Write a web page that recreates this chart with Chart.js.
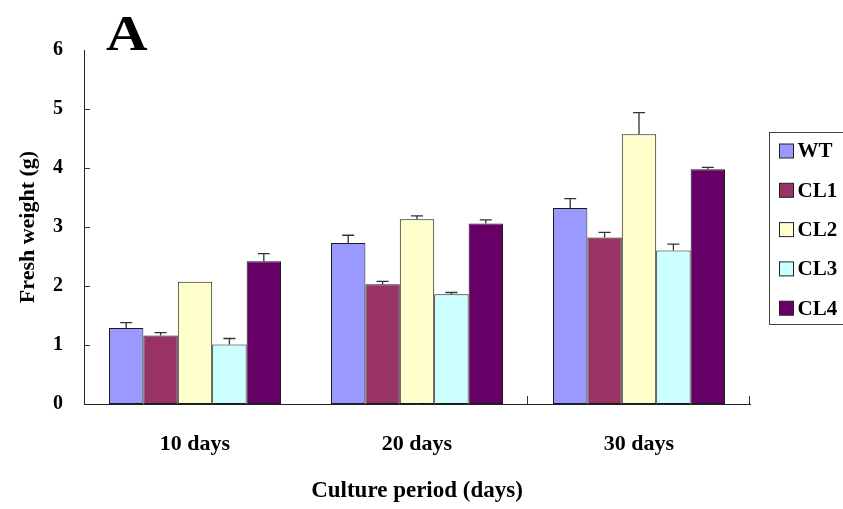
<!DOCTYPE html>
<html><head><meta charset="utf-8">
<script src="https://cdn.jsdelivr.net/npm/chart.js@4.4.0/dist/chart.umd.min.js"></script>
<style>html,body{margin:0;padding:0;background:#fff;overflow:hidden}#wrap{width:843px;height:509px;position:relative}</style>
</head><body><div id="wrap"><canvas id="c" width="843" height="509"></canvas></div>
<script>
const categories = ['10 days', '20 days', '30 days'];
const seriesNames = ['WT', 'CL1', 'CL2', 'CL3', 'CL4'];
const wtValues  = [1.29, 2.73, 3.32];
const cl1Values = [1.16, 2.03, 2.82];
const cl2Values = [2.07, 3.13, 4.57];
const cl3Values = [1.01, 1.86, 2.60];
const cl4Values = [2.42, 3.06, 3.98];
const wtErrors  = [0.09, 0.13, 0.16];
const cl1Errors = [0.05, 0.05, 0.09];
const cl2Errors = [0.00, 0.06, 0.37];
const cl3Errors = [0.10, 0.03, 0.11];
const cl4Errors = [0.13, 0.06, 0.03];
const yTickValues = [0, 1, 2, 3, 4, 5, 6];
const panelLabel = 'A';
const yTitle = 'Fresh weight (g)';
const xTitle = 'Culture period (days)';

const seriesValues = [wtValues, cl1Values, cl2Values, cl3Values, cl4Values];
const seriesErrors = [wtErrors, cl1Errors, cl2Errors, cl3Errors, cl4Errors];
const seriesColors = ['#9999FF', '#993366', '#FFFFCC', '#CCFFFF', '#660066'];
const SERIF = '"Liberation Serif", "Times New Roman", serif';

const errorBarPlugin = {
  id: 'errorBars',
  afterDatasetsDraw(chart) {
    const ctx = chart.ctx, y = chart.scales.y;
    ctx.save();
    ctx.strokeStyle = '#333';
    ctx.lineWidth = 1.3;
    chart.data.datasets.forEach((ds, di) => {
      const meta = chart.getDatasetMeta(di);
      meta.data.forEach((bar, i) => {
        const err = seriesErrors[di][i];
        if (!err) return;
        const yTop = y.getPixelForValue(ds.data[i] + err);
        const yBase = bar.y;
        ctx.beginPath();
        ctx.moveTo(bar.x, yBase);
        ctx.lineTo(bar.x, yTop);
        ctx.moveTo(bar.x - 6, yTop);
        ctx.lineTo(bar.x + 6, yTop);
        ctx.stroke();
      });
    });
    ctx.restore();
  }
};

const axisTickPlugin = {
  id: 'axisTicks',
  afterDraw(chart) {
    const ctx = chart.ctx, area = chart.chartArea, y = chart.scales.y;
    ctx.save();
    ctx.strokeStyle = '#333';
    ctx.lineWidth = 1;
    yTickValues.forEach(v => {
      if (v === 0 || v === yTickValues[yTickValues.length - 1]) return;
      const py = Math.round(y.getPixelForValue(v)) + 0.5;
      ctx.beginPath();
      ctx.moveTo(area.left, py);
      ctx.lineTo(area.left + 6, py);
      ctx.stroke();
    });
    const n = categories.length;
    const w = (area.right - area.left) / n;
    for (let i = 2; i <= n; i++) {
      const px = Math.round(area.left + i * w) - 0.5;
      ctx.beginPath();
      ctx.moveTo(px, area.bottom);
      ctx.lineTo(px, area.bottom - 8);
      ctx.stroke();
    }
    ctx.restore();
  }
};

const legendPlugin = {
  id: 'boxLegend',
  afterDraw(chart) {
    const ctx = chart.ctx, area = chart.chartArea;
    const bx = area.right + 19.5, by = 132.5, bw = 120, bh = 192;
    ctx.save();
    ctx.fillStyle = '#fff';
    ctx.fillRect(bx, by, bw, bh);
    ctx.strokeStyle = '#444';
    ctx.lineWidth = 1;
    ctx.strokeRect(bx, by, bw, bh);
    ctx.font = 'bold 21px ' + SERIF;
    ctx.textBaseline = 'middle';
    ctx.textAlign = 'left';
    chart.data.datasets.forEach((ds, i) => {
      const cy = by + 18.5 + i * 39.3;
      ctx.fillStyle = ds.backgroundColor;
      ctx.fillRect(bx + 10, cy - 7, 14, 14);
      ctx.strokeStyle = '#222';
      ctx.strokeRect(bx + 10, cy - 7, 14, 14);
      ctx.fillStyle = '#000';
      ctx.fillText(ds.label, bx + 28, cy + 1);
    });
    ctx.restore();
  }
};

const panelPlugin = {
  id: 'panelLabel',
  afterDraw(chart) {
    const ctx = chart.ctx, area = chart.chartArea;
    ctx.save();
    ctx.font = 'bold 50px ' + SERIF;
    ctx.fillStyle = '#000';
    ctx.textBaseline = 'alphabetic';
    ctx.textAlign = 'left';
    ctx.translate(area.left + 22, 50);
    ctx.scale(1.15, 1);
    ctx.fillText(panelLabel, 0, 0);
    ctx.restore();
  }
};

new Chart(document.getElementById('c'), {
  type: 'bar',
  data: {
    labels: categories,
    datasets: seriesNames.map((name, i) => ({
      label: name,
      data: seriesValues[i],
      backgroundColor: seriesColors[i],
      borderColor: '#1a1a1a',
      borderWidth: 1,
      borderSkipped: false,
      categoryPercentage: 0.775,
      barPercentage: 1.0
    }))
  },
  options: {
    responsive: false,
    animation: false,
    devicePixelRatio: 1,
    layout: { padding: { top: 50, right: 93, left: 0, bottom: 0 } },
    plugins: { legend: { display: false }, tooltip: { enabled: false }, title: { display: false } },
    scales: {
      x: {
        grid: { display: false, drawTicks: false },
        border: { display: true, color: '#222', width: 1 },
        ticks: { color: '#000', font: { family: SERIF, size: 22, weight: 'bold' }, padding: 27 },
        title: { display: true, text: xTitle, color: '#000', font: { family: SERIF, size: 23, weight: 'bold' }, padding: { top: 0, bottom: 4 } },
        afterFit(s) { s.height = 105; }
      },
      y: {
        min: 0, max: 6,
        grid: { display: false, drawTicks: false },
        border: { display: true, color: '#222', width: 1 },
        ticks: { stepSize: 1, color: '#000', font: { family: SERIF, size: 20, weight: 'bold' }, padding: 21 },
        title: { display: true, text: yTitle, color: '#000', font: { family: SERIF, size: 22, weight: 'bold' }, padding: { top: 15, bottom: 0 } },
        afterFit(s) { s.width = 84; }
      }
    }
  },
  plugins: [errorBarPlugin, axisTickPlugin, legendPlugin, panelPlugin]
});
</script>
</body></html>
